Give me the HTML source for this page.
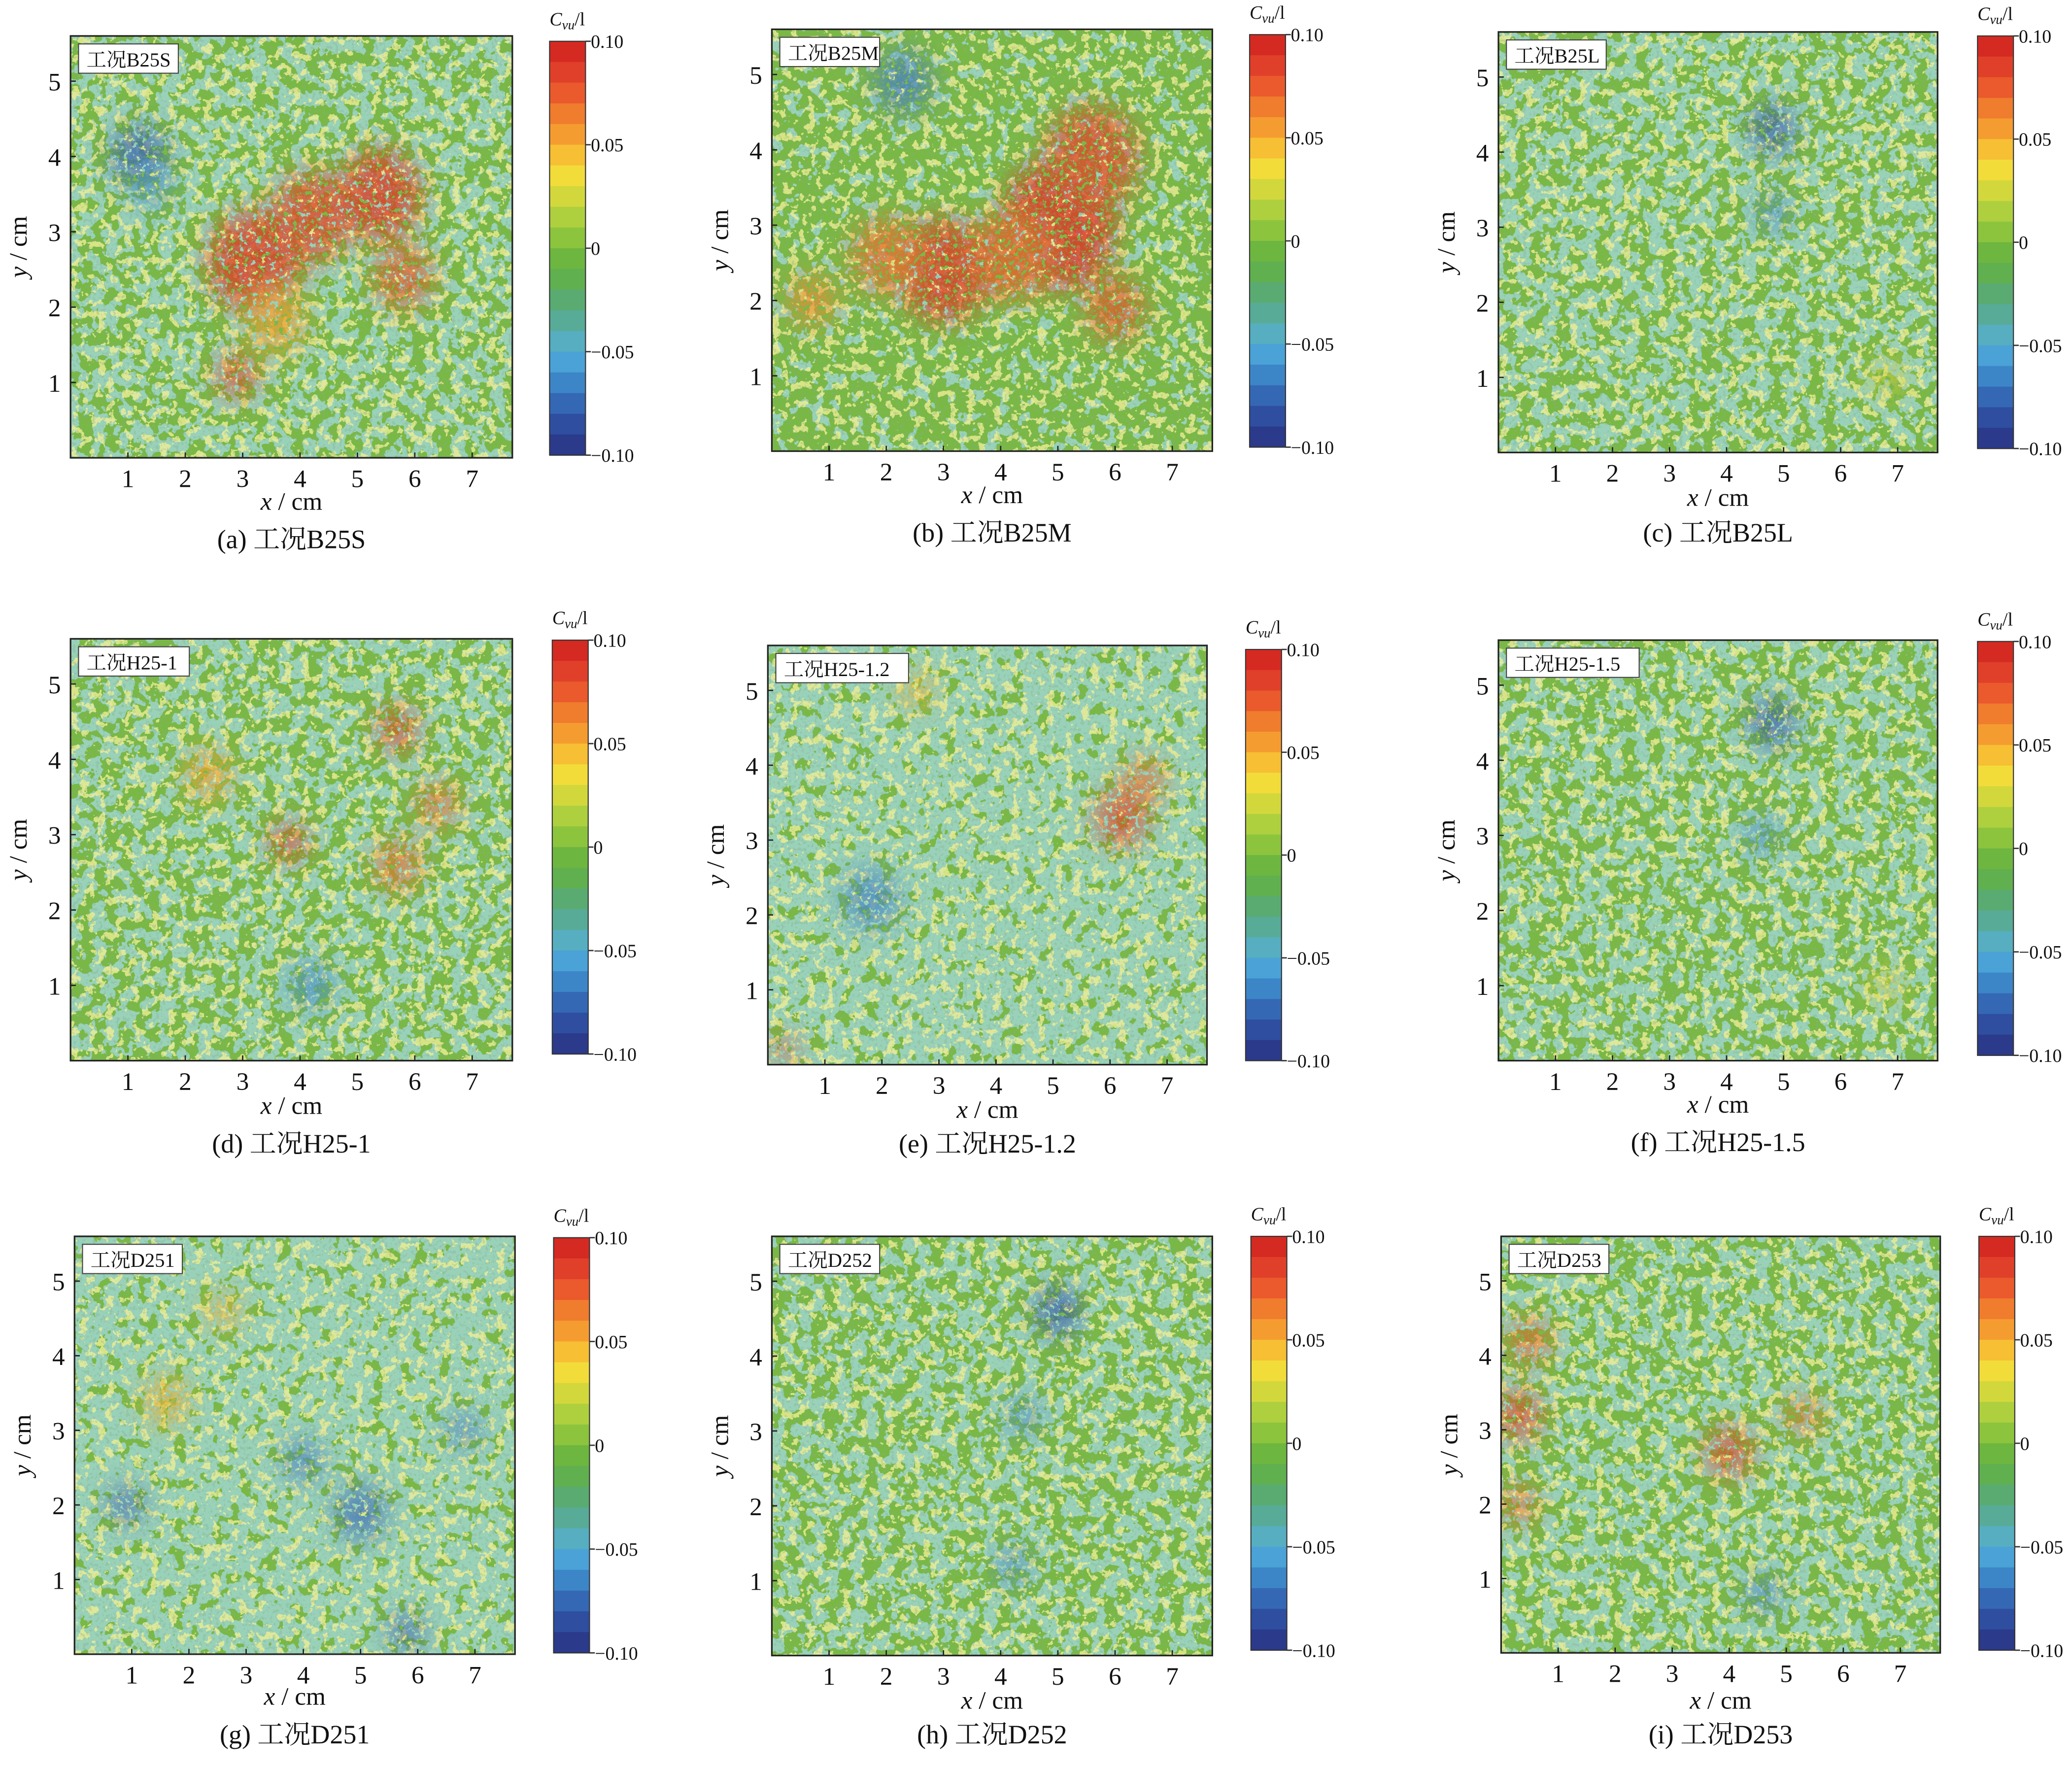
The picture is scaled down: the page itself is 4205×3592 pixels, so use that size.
<!DOCTYPE html>
<html><head><meta charset="utf-8">
<style>
html,body{margin:0;padding:0;background:#fff;}
svg{display:block;}
text{font-family:"Liberation Serif","DejaVu Serif","Noto Serif CJK SC",serif;fill:#111;}
</style></head>
<body>
<svg id="s" xmlns="http://www.w3.org/2000/svg" width="4205" height="3592" viewBox="0 0 1557 1330">
<defs>
<filter id="blur" x="-50%" y="-50%" width="200%" height="200%"><feGaussianBlur stdDeviation="10"/></filter>
</defs>
</svg>
<script>
const NS="http://www.w3.org/2000/svg";
const svg=document.getElementById('s');
const defs=svg.querySelector('defs');
const FF='"Liberation Serif","DejaVu Serif","Noto Serif CJK SC",serif';
function el(t,a,p){const e=document.createElementNS(NS,t);for(const k in a)e.setAttribute(k,a[k]);(p||svg).appendChild(e);return e;}
function tx(x,y,s,size,anchor,p){const e=el('text',{x:x,y:y,'font-size':size,'text-anchor':anchor||'middle','font-family':FF},p);e.textContent=s;return e;}
const cb=['#d42a22','#e0402a','#ea5a2c','#f07c2e','#f59c30','#f7bf34','#f2dc3a','#d2d83c','#aed03e','#8cc43e','#6db640','#60b050','#5aab72','#58ab96','#56aec0','#4aa2d6','#3c86c8','#3568b4','#2f4ea0','#2b3a8a'];
const P=[
{L:53,T:27,R:385,B:344,cx:413,cT:31,cB:342,c:'a',n:'B25S',cy:412,xy:383,seed:3,cz:5,
 blobs:[[3.2,2.6,.8,'#e03a28'],[4.2,3.2,.7,'#e04a2a'],[5.4,3.5,.7,'#e03a28'],[5.8,2.4,.5,'#e05a2c'],[3.6,1.8,.5,'#f0a030'],[2.9,1.1,.35,'#e04a2a'],[1.2,4.0,.5,'#3a62b0'],[1.4,3.6,.35,'#4a90cc']]},
{L:580,T:22,R:911,B:339,cx:939,cT:26,cB:336,c:'b',n:'B25M',cy:407,xy:378,seed:7,cz:6,
 blobs:[[5.0,3.0,1.0,'#e03026'],[3.0,2.4,.8,'#e03a28'],[5.6,3.9,.8,'#e04a2a'],[4.2,2.6,.7,'#e8602c'],[2.0,2.6,.6,'#e8702e'],[6.0,1.9,.5,'#e05a2c'],[0.7,2.0,.4,'#ef8a30'],[2.3,4.9,.5,'#4a80c4']]},
{L:1126,T:24,R:1456,B:340,cx:1486,cT:27,cB:337,c:'c',n:'B25L',cy:407,xy:380,seed:11,cz:5,
 blobs:[[4.8,4.3,.4,'#3a5eb0'],[4.8,3.2,.3,'#4a8ac8'],[6.8,1.0,.3,'#d8d040']]},
{L:53,T:480,R:385,B:797,cx:415,cT:481,cB:792,c:'d',n:'H25-1',cy:866,xy:837,seed:5,cz:5,
 blobs:[[3.8,2.9,.3,'#e03a28'],[5.7,4.4,.35,'#e04a2a'],[5.7,2.6,.4,'#e8702e'],[6.4,3.4,.35,'#e8702e'],[2.4,3.8,.4,'#f0a030'],[4.2,1.0,.4,'#4a90cc']]},
{L:577,T:485,R:907,B:800,cx:936,cT:488,cB:797,c:'e',n:'H25-1.2',cy:866,xy:840,seed:9,cz:4,
 blobs:[[6.2,3.3,.45,'#e04a2a'],[6.6,3.8,.35,'#e8702e'],[1.8,2.2,.5,'#4a88c8'],[0.3,0.2,.2,'#e03a28'],[2.6,5.0,.3,'#e8b034']]},
{L:1126,T:481,R:1456,B:797,cx:1486,cT:482,cB:793,c:'f',n:'H25-1.5',cy:865,xy:836,seed:13,cz:5,
 blobs:[[4.8,4.5,.4,'#3a5eb0'],[4.6,3.0,.3,'#4a8ac8'],[6.8,1.0,.3,'#d8d040']]},
{L:56,T:929,R:387,B:1243,cx:416,cT:930,cB:1242,c:'g',n:'D251',cy:1310,xy:1281,seed:17,cz:4,
 blobs:[[0.9,2.0,.3,'#3a5eb0'],[5.0,1.9,.45,'#4070b8'],[4.0,2.6,.35,'#4a80c4'],[6.8,3.0,.3,'#4a80c4'],[5.8,0.3,.3,'#3a5eb0'],[1.6,3.4,.4,'#e8b034'],[2.6,4.6,.3,'#e8b034']]},
{L:580,T:929,R:911,B:1244,cx:940,cT:929,cB:1240,c:'h',n:'D252',cy:1310,xy:1284,seed:19,cz:5,
 blobs:[[5.0,4.6,.4,'#3558aa'],[4.4,3.2,.3,'#4a88c8'],[4.2,1.2,.3,'#4a88c8']]},
{L:1128,T:929,R:1458,B:1242,cx:1487,cT:929,cB:1240,c:'i',n:'D253',cy:1310,xy:1284,seed:23,cz:5,
 blobs:[[0.3,3.2,.4,'#e04a2a'],[0.5,4.2,.35,'#e8602c'],[0.3,2.0,.3,'#e8602c'],[4.0,2.7,.4,'#e04a2a'],[5.3,3.2,.3,'#e8702e'],[4.6,0.8,.3,'#4a80c4']]}
];
P.forEach((p,i)=>{
  const w=p.R-p.L,h=p.B-p.T,sx=w/7.7,sy=h/5.6;
  const X=v=>p.L+v*sx,Y=v=>p.B-v*sy;
  const mk=(id,freq,seed,col,tbl)=>{
    const f=el('filter',{id:id,x:0,y:0,width:1,height:1,filterUnits:'objectBoundingBox'},defs);
    el('feTurbulence',{type:'fractalNoise',baseFrequency:freq,numOctaves:3,seed:seed,result:'n'},f);
    el('feColorMatrix',{type:'matrix',values:`0 0 0 0 ${col[0]} 0 0 0 0 ${col[1]} 0 0 0 0 ${col[2]} 1 0 0 0 0`,result:'m'},f);
    const ct=el('feComponentTransfer',{in:'m',result:'c'},f);
    el('feFuncA',{type:'discrete',tableValues:tbl},ct);
    el('feComposite',{in:'c',in2:'SourceGraphic',operator:'in'},f);
  };
  const ctab=Array(10).fill(0).map((_,k)=>k<p.cz?0:0.85).join(' ');
  mk('cy'+i,0.1,p.seed,[0.34,0.67,0.62],ctab);
  mk('ye'+i,0.15,p.seed+31,[0.86,0.86,0.30],'0 0 0 0 0 0 0.8 0.8 0.8 0.8');
  mk('dg'+i,0.4,p.seed+57,[0.22,0.42,0.25],'0 0 0 0 0 0 0.5 0.5 0.5 0.5');
  mk('sp'+i,0.3,p.seed+77,[1,1,1],'0 0 0 0 1 1 1 1 1 1');
  const clip=el('clipPath',{id:'cl'+i},defs);el('rect',{x:p.L,y:p.T,width:w,height:h},clip);
  const mask=el('mask',{id:'mk'+i},defs);el('rect',{x:p.L,y:p.T,width:w,height:h,fill:'#fff',filter:`url(#sp${i})`},mask);
  const g=el('g',{'clip-path':`url(#cl${i})`});
  el('rect',{x:p.L,y:p.T,width:w,height:h,fill:'#7ab845'},g);
  el('rect',{x:p.L,y:p.T,width:w,height:h,fill:'#fff',filter:`url(#cy${i})`},g);
  el('rect',{x:p.L,y:p.T,width:w,height:h,fill:'#fff',filter:`url(#ye${i})`},g);
  const mg=el('g',{mask:`url(#mk${i})`},g);
  const bg=el('g',{filter:'url(#blur)',opacity:0.8},mg);
  p.blobs.forEach(b=>{el('ellipse',{cx:X(b[0]),cy:Y(b[1]),rx:b[2]*sx,ry:b[2]*sy*0.85,fill:b[3]},bg);});
  el('rect',{x:p.L,y:p.T,width:w,height:h,fill:'#fff',filter:`url(#dg${i})`,opacity:0.6},g);
  el('rect',{x:p.L,y:p.T,width:w,height:h,fill:'none',stroke:'#222','stroke-width':1.2});
  const tagW=15*(2+p.n.length*0.55)+12;
  el('rect',{x:p.L+6,y:p.T+6,width:tagW,height:22,fill:'#fff',stroke:'#444','stroke-width':0.8});
  tx(p.L+12,p.T+23,'工况'+p.n,15,'start');
  for(let k=1;k<=7;k++){el('line',{x1:X(k),y1:p.B,x2:X(k),y2:p.B-4,stroke:'#222'});tx(X(k),p.B+22,String(k),19);}
  for(let k=1;k<=5;k++){el('line',{x1:p.L,y1:Y(k),x2:p.L+4,y2:Y(k),stroke:'#222'});tx(p.L-12,Y(k)+7,String(k),19);}
  const xl=tx((p.L+p.R)/2,p.xy,'',19);xl.innerHTML='<tspan font-style="italic">x</tspan> / cm';
  const yl=el('text',{x:0,y:0,'font-size':19,'text-anchor':'middle','font-family':FF,transform:`translate(${p.L-33},${(p.T+p.B)/2}) rotate(-90)`});
  yl.innerHTML='<tspan font-style="italic">y</tspan> / cm';
  tx((p.L+p.R)/2,p.cy,`(${p.c}) 工况${p.n}`,20);
  const ch=(p.cB-p.cT)/20;
  cb.forEach((c,k)=>el('rect',{x:p.cx,y:p.cT+k*ch,width:27,height:ch+0.4,fill:c}));
  el('rect',{x:p.cx,y:p.cT,width:27,height:p.cB-p.cT,fill:'none',stroke:'#333','stroke-width':0.8});
  ['0.10','0.05','0','\u22120.05','\u22120.10'].forEach((s,k)=>{
    const yy=p.cT+k*(p.cB-p.cT)/4;
    el('line',{x1:p.cx+27,y1:yy,x2:p.cx+31,y2:yy,stroke:'#333'});
    tx(p.cx+31,yy+5,s,14,'start');
  });
  const t=el('text',{x:p.cx,y:p.cT-12,'font-size':14,'text-anchor':'start','font-family':FF});
  t.innerHTML='<tspan font-style="italic">C</tspan><tspan font-size="10" dy="3" font-style="italic">vu</tspan><tspan dy="-3">/l</tspan>';
});
</script>
</body></html>
